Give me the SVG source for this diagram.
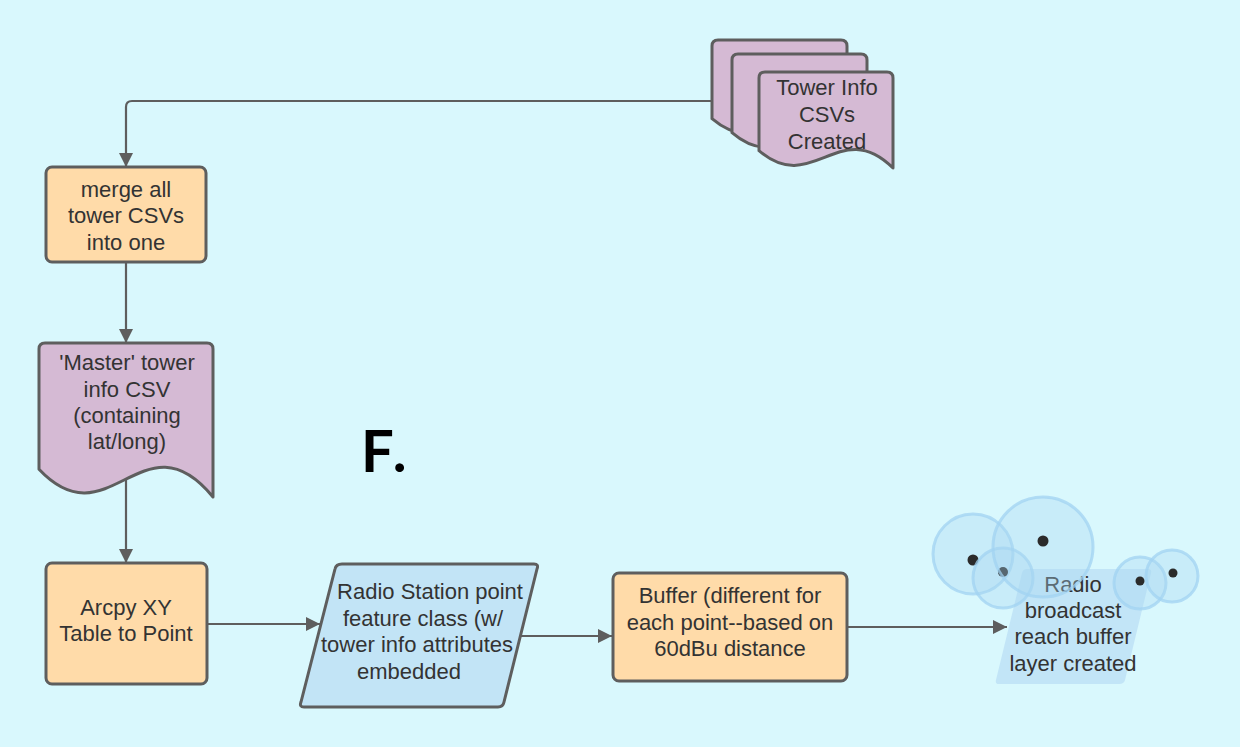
<svg xmlns="http://www.w3.org/2000/svg" width="1240" height="747" viewBox="0 0 1240 747">
<defs>
<style>
.t{font-family:"Liberation Sans",Arial,sans-serif;font-size:22px;fill:#333333;text-anchor:middle}
.proc{fill:#ffdba9;stroke:#5e5e5e;stroke-width:3}
.doc{fill:#d5bad4;stroke:#5e5e5e;stroke-width:3;stroke-linejoin:round}
.io{fill:#c2e4f6;stroke:#5e5e5e;stroke-width:3;stroke-linejoin:round}
.con{fill:none;stroke:#5e5e5e;stroke-width:2.2}
.ring{fill:#a9d6f2;fill-opacity:0.35;stroke:#a2d3f1;stroke-opacity:0.75;stroke-width:3}
.dot{fill:#2b2b2b}
</style>
<marker id="arr" viewBox="0 0 14 14" refX="14" refY="7" markerWidth="14" markerHeight="14" markerUnits="userSpaceOnUse" orient="auto">
<path d="M0,0 L14,7 L0,14 Z" fill="#5e5e5e"/>
</marker>
</defs>
<rect width="1240" height="747" fill="#d9f8fd"/>
<g id="connectors">
<path class="con" d="M712,101 H132 Q126,101 126,107 V167" marker-end="url(#arr)"/>
<path class="con" d="M126,262 V343" marker-end="url(#arr)"/>
<path class="con" d="M126,480 V563" marker-end="url(#arr)"/>
<path class="con" d="M207,624 H320" marker-end="url(#arr)"/>
<path class="con" d="M520,636 H612" marker-end="url(#arr)"/>
<path class="con" d="M847,627 H1007" marker-end="url(#arr)"/>
</g>
<g id="tower-csvs">
<path class="doc" d="M712,46 Q712,40 718,40 H841 Q847,40 847,46 V136 C793,83 766,165 712,118.7 Z"/>
<path class="doc" d="M732,60 Q732,54 738,54 H861 Q867,54 867,60 V150 C812.4,97.2 785.6,178.8 732,132.7 Z"/>
<path class="doc" d="M759,78 Q759,72 765,72 H887 Q893,72 893,78 V168 C839.4,115.2 812.6,196.8 759,150.7 Z"/>
<text class="t" x="827" y="95">Tower Info</text>
<text class="t" x="827" y="122">CSVs</text>
<text class="t" x="827" y="149">Created</text>
</g>
<g id="merge">
<rect class="proc" x="46" y="167" width="160" height="95" rx="6"/>
<text class="t" x="126" y="197">merge all</text>
<text class="t" x="126" y="223">tower CSVs</text>
<text class="t" x="126" y="250">into one</text>
</g>
<g id="master">
<path class="doc" d="M39,349 Q39,343 45,343 H207 Q213,343 213,349 V497 C143.4,412.3 108.6,543.2 39,469.3 Z"/>
<text class="t" x="127" y="370">'Master' tower</text>
<text class="t" x="127" y="397">info CSV</text>
<text class="t" x="127" y="423">(containing</text>
<text class="t" x="127" y="449">lat/long)</text>
</g>
<g id="label-f">
<text x="361" y="472" style="font-family:Lato,'Liberation Sans',sans-serif;font-size:58px;font-weight:bold;fill:#000;letter-spacing:4px">F.</text>
</g>
<g id="arcpy">
<rect class="proc" x="46" y="563" width="161" height="121" rx="6"/>
<text class="t" x="126" y="615">Arcpy XY</text>
<text class="t" x="126" y="641">Table to Point</text>
</g>
<g id="radio-station">
<path class="io" d="M342,564 H534 Q539,564 537,569 L504,702 Q503,707 498,707 H304 Q299,707 301,702 L335,569 Q336,564 342,564 Z"/>
<text class="t" x="430" y="599">Radio Station point</text>
<text class="t" x="423" y="626">feature class (w/</text>
<text class="t" x="417" y="652">tower info attributes</text>
<text class="t" x="409" y="679">embedded</text>
</g>
<g id="buffer">
<rect class="proc" x="613" y="573" width="234" height="108" rx="6"/>
<text class="t" x="730" y="603">Buffer (different for</text>
<text class="t" x="730" y="630">each point--based on</text>
<text class="t" x="730" y="656">60dBu distance</text>
</g>
<g id="broadcast">
<path d="M1027,569 H1148 Q1152,569 1151,573 L1125,680 Q1124,684 1119,684 H999 Q995,684 996,680 L1022,573 Q1023,569 1027,569 Z" fill="#bfe2f6" fill-opacity="0.9"/>
<text class="t" x="1073" y="592">Radio</text>
<text class="t" x="1073" y="618">broadcast</text>
<text class="t" x="1073" y="644">reach buffer</text>
<text class="t" x="1073" y="671">layer created</text>
<circle class="ring" cx="973" cy="554" r="40"/>
<circle class="dot" cx="973" cy="560" r="5.5"/>
<circle class="ring" cx="1003" cy="578" r="30"/>
<circle class="dot" cx="1003" cy="572" r="5"/>
<circle class="ring" cx="1043" cy="547" r="50"/>
<circle class="dot" cx="1043" cy="541" r="5.5"/>
<circle class="ring" cx="1140" cy="583" r="26"/>
<circle class="dot" cx="1140" cy="581" r="4.5"/>
<circle class="ring" cx="1172" cy="576" r="26"/>
<circle class="dot" cx="1173" cy="573" r="4.5"/>
</g>
</svg>
